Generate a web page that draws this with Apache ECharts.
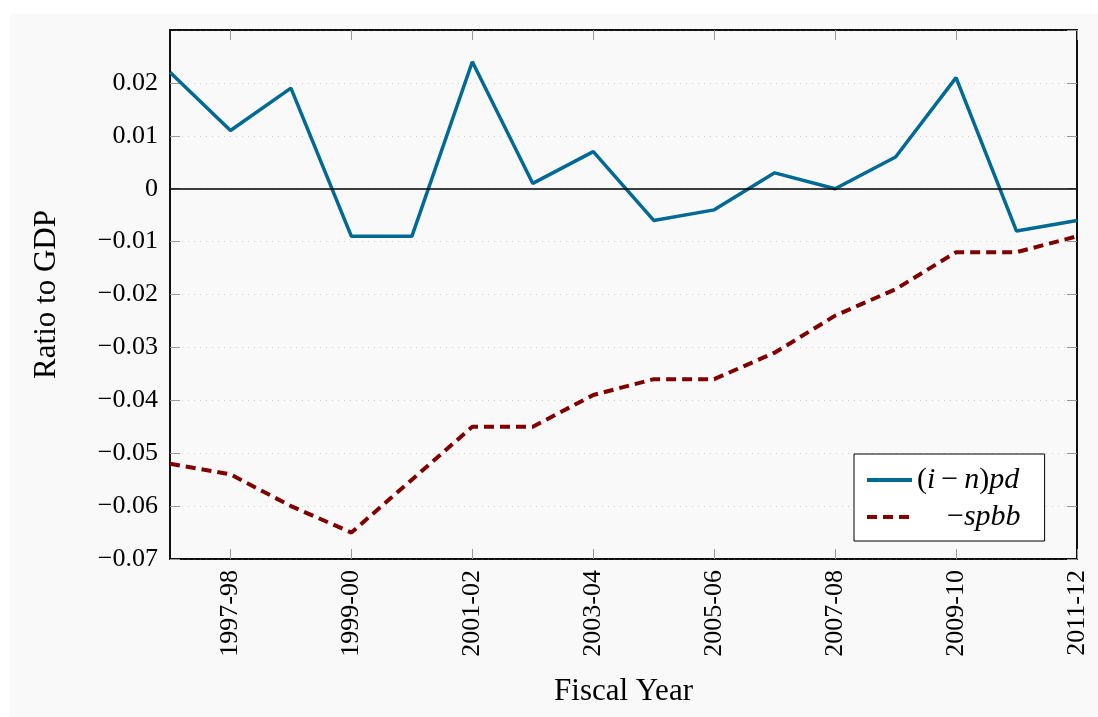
<!DOCTYPE html>
<html>
<head>
<meta charset="utf-8">
<script src="https://cdn.jsdelivr.net/npm/echarts@6/dist/echarts.min.js"></script>
<style>
html,body{margin:0;padding:0;background:#ffffff;}
#panel{position:absolute;left:10px;top:14px;width:1088px;height:703px;background:#f9f9f9;}
#chart{position:absolute;left:0;top:0;width:1098px;height:717px;}
</style>
</head>
<body>
<div id="panel"></div>
<div id="chart"></div>
<script>
const years = ['1996-97','1997-98','1998-99','1999-00','2000-01','2001-02','2002-03','2003-04','2004-05','2005-06','2006-07','2007-08','2008-09','2009-10','2010-11','2011-12'];
const ipd = [0.022,0.011,0.019,-0.009,-0.009,0.024,0.001,0.007,-0.006,-0.004,0.003,0.000,0.006,0.021,-0.008,-0.006];
const spbb = [-0.052,-0.054,-0.060,-0.065,-0.055,-0.045,-0.045,-0.039,-0.036,-0.036,-0.031,-0.024,-0.019,-0.012,-0.012,-0.009];
const seriesNames = ['ipd','spbb'];

const chart = echarts.init(document.getElementById('chart'));
const serif = '"Liberation Serif","DejaVu Serif",serif';
const showOdd = (i) => i % 2 === 1;
const yFmt = (v) => {
  const r = Math.round(v * 100) / 100;
  if (r === 0) return '0';
  return (r < 0 ? '\u2212' : '') + Math.abs(r).toFixed(2);
};
const tickStyle = {color:'#999999', width:1};
chart.setOption({
  animation:false,
  backgroundColor:'transparent',
  grid:{left:170, top:30, right:21, bottom:158, show:true, borderColor:'#000', borderWidth:1.5, backgroundColor:'transparent'},
  legend:{
    orient:'vertical', left:854, top:454,
    backgroundColor:'#ffffff', borderColor:'#000', borderWidth:1,
    padding:[11,24,9,11], itemGap:7, itemWidth:45, itemHeight:32,
    itemStyle:{opacity:0},
    lineStyle:{width:4},
    data:seriesNames,
    formatter:(n) => n === 'ipd' ? '{u|(}{i|i}{u|\u2009\u2212\u2009}{i|n}{u|)}{i|pd}' : '{u|    \u2212}{i|spbb}',
    textStyle:{fontFamily:serif, fontSize:30, color:'#000',
      rich:{u:{fontFamily:serif, fontSize:30, color:'#000'}, i:{fontFamily:serif, fontSize:30, fontStyle:'italic', color:'#000'}}}
  },
  xAxis:[{
    type:'category', data:years, boundaryGap:false, position:'bottom',
    axisLine:{onZero:false, lineStyle:{color:'#000', width:1.5}},
    axisTick:{inside:true, length:10, interval:showOdd, lineStyle:tickStyle},
    axisLabel:{interval:showOdd, rotate:90, fontFamily:serif, fontSize:26, color:'#000', margin:11},
    splitLine:{show:false},
    name:'Fiscal Year', nameLocation:'middle', nameGap:117,
    nameTextStyle:{fontFamily:serif, fontSize:31, color:'#000'}
  },{
    type:'category', data:years, boundaryGap:false, position:'top',
    axisLine:{onZero:false, lineStyle:{color:'#000', width:1.5}},
    axisTick:{inside:true, length:10, interval:showOdd, lineStyle:tickStyle},
    axisLabel:{show:false}, splitLine:{show:false}
  }],
  yAxis:[{
    type:'value', min:-0.07, max:0.03, interval:0.01, position:'left',
    axisLine:{show:true, onZero:false, lineStyle:{color:'#000', width:1.5}},
    axisTick:{show:true, inside:true, length:10, lineStyle:tickStyle},
    axisLabel:{formatter:yFmt, showMaxLabel:false, fontFamily:serif, fontSize:26, color:'#000', margin:12},
    splitLine:{show:true, lineStyle:{color:'#cfcfcf', type:[1,5], width:1}},
    name:'Ratio to GDP', nameLocation:'middle', nameGap:108, nameRotate:90,
    nameTextStyle:{fontFamily:serif, fontSize:31, color:'#000'}
  },{
    type:'value', min:-0.07, max:0.03, interval:0.01, position:'right',
    axisLine:{show:true, onZero:false, lineStyle:{color:'#000', width:1.5}},
    axisTick:{show:true, inside:true, length:10, lineStyle:tickStyle},
    axisLabel:{show:false}, splitLine:{show:false}
  }],
  series:[{
    name:'ipd', type:'line', data:ipd, symbol:'none', z:3,
    lineStyle:{color:'#006a94', width:3.5}, itemStyle:{color:'#006a94'},
    markLine:{silent:true, symbol:'none', label:{show:false}, animation:false,
      lineStyle:{color:'#000', width:1.5, type:'solid'}, data:[{yAxis:0}]}
  },{
    name:'spbb', type:'line', data:spbb, symbol:'none', z:2,
    lineStyle:{color:'#800000', width:4, type:[10,6]}, itemStyle:{color:'#800000'}
  }]
});
</script>
</body>
</html>
